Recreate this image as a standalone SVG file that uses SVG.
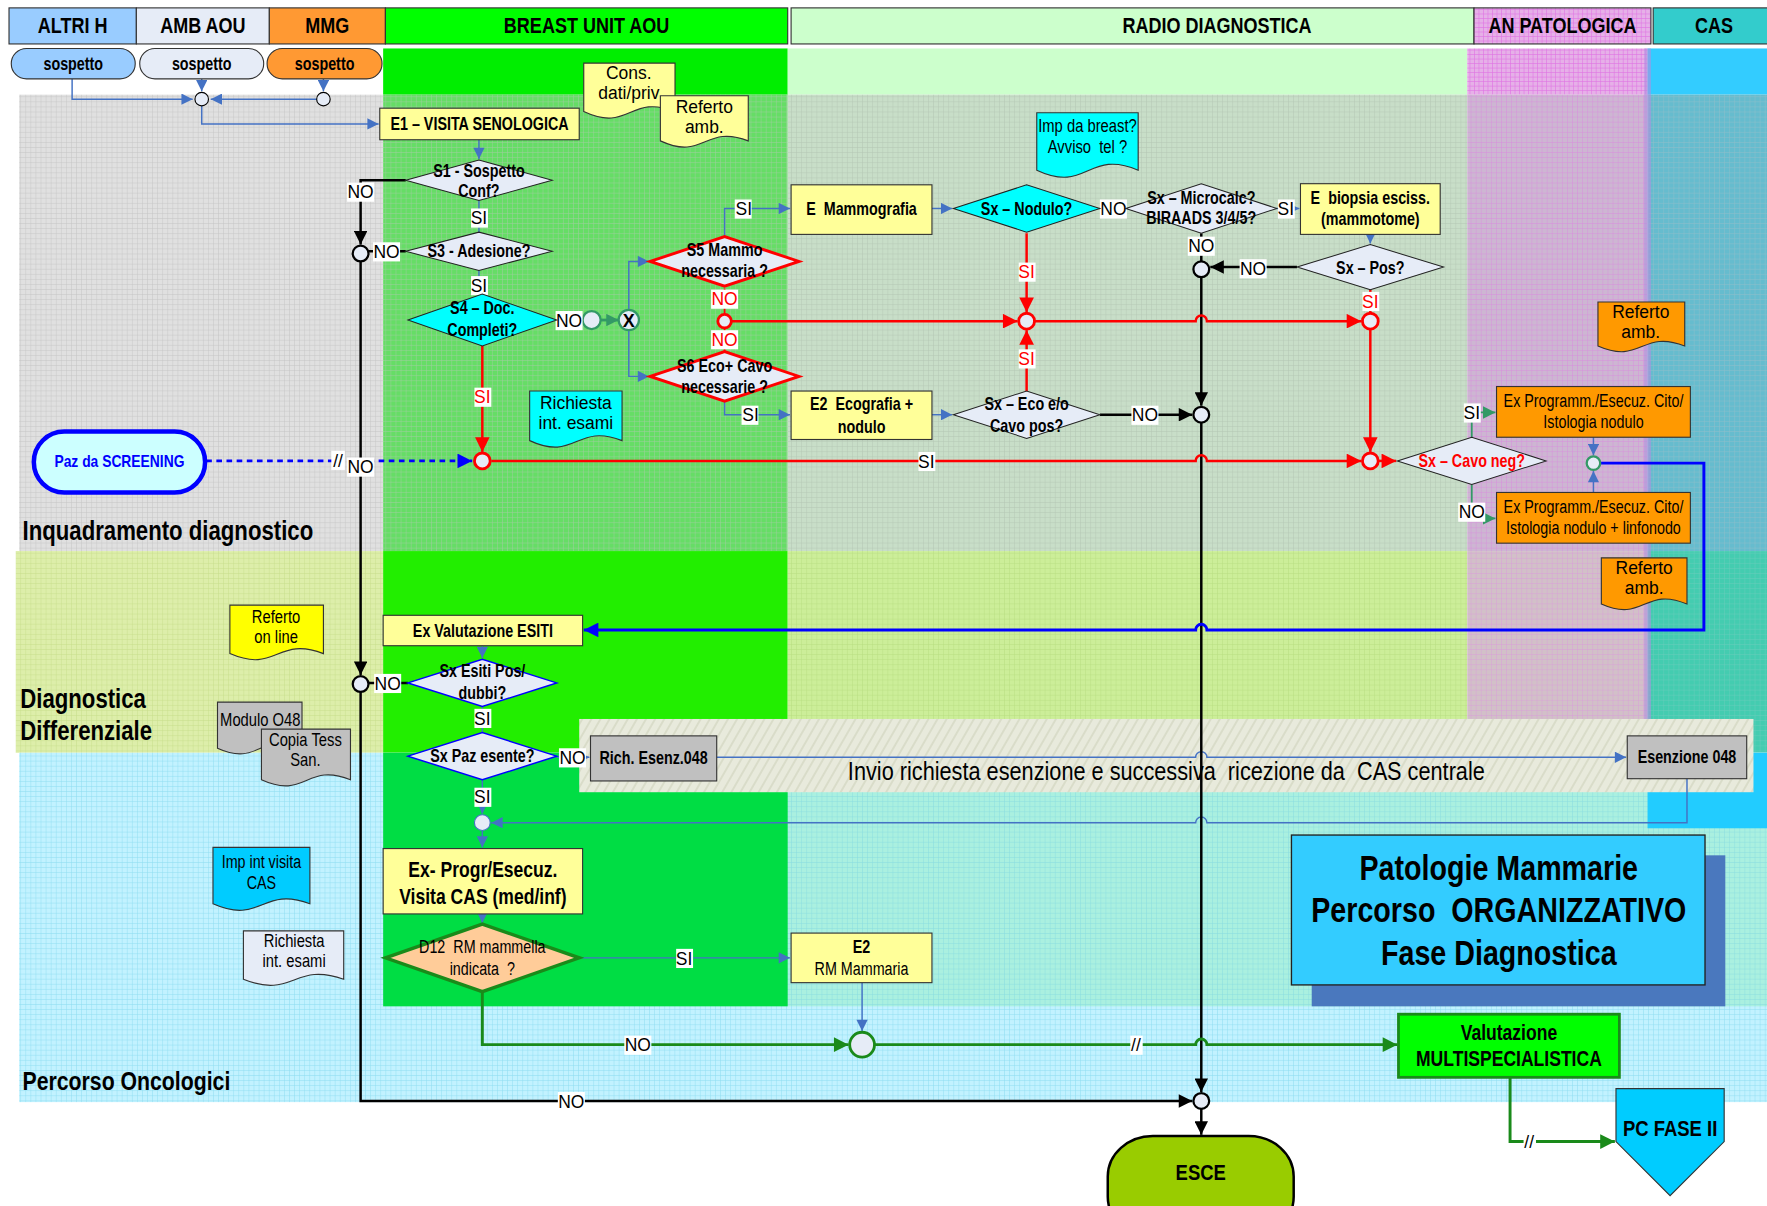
<svg xmlns="http://www.w3.org/2000/svg" width="1767" height="1206" viewBox="0 0 1767 1206">
<defs>
<style>
text{font-family:"Liberation Sans",Arial,sans-serif;text-anchor:middle;fill:#000;white-space:pre}
.hd,.b,.r,.band{transform:scale(.82,1);transform-box:fill-box;transform-origin:50% 50%}
.hd{font-size:19.5px;font-weight:bold}
.b{font-size:15.5px;font-weight:bold}
.r{font-size:15.5px}
.w{font-size:15.5px}
.lt{font-size:15.5px}
.band{font-size:24px;font-weight:bold;text-anchor:start;transform-origin:0 50%}
.box{stroke:#333;stroke-width:1}
.yel{fill:#FFFF99}
.dia{fill:#E6ECF7;stroke:#222;stroke-width:0.9}
.cb{stroke:#4472C4;stroke-width:1.3;fill:none}
.ck{stroke:#000;stroke-width:2.2;fill:none}
.cr{stroke:#FF0000;stroke-width:2.2;fill:none}
.cg{stroke:#339966;stroke-width:1.6;fill:none}
.cgd{stroke:#1A8A1A;stroke-width:2.6;fill:none}
.cbd{stroke:#0000FF;stroke-width:2.6;fill:none}
.lb rect{fill:#fff}
.jn{fill:#E6ECF7;stroke:#000;stroke-width:2}
</style>
<marker id="aB" viewBox="0 0 10 10" refX="10" refY="5" markerUnits="userSpaceOnUse" markerWidth="11" markerHeight="10" orient="auto"><path d="M0 0L10 5L0 10Z" fill="#4472C4"/></marker>
<marker id="aK" viewBox="0 0 10 10" refX="10" refY="5" markerUnits="userSpaceOnUse" markerWidth="13" markerHeight="12" orient="auto"><path d="M0 0L10 5L0 10Z" fill="#000"/></marker>
<marker id="aR" viewBox="0 0 10 10" refX="10" refY="5" markerUnits="userSpaceOnUse" markerWidth="14" markerHeight="13" orient="auto"><path d="M0 0L10 5L0 10Z" fill="#FF0000"/></marker>
<marker id="aG" viewBox="0 0 10 10" refX="10" refY="5" markerUnits="userSpaceOnUse" markerWidth="12" markerHeight="11" orient="auto"><path d="M0 0L10 5L0 10Z" fill="#339966"/></marker>
<marker id="aGD" viewBox="0 0 10 10" refX="10" refY="5" markerUnits="userSpaceOnUse" markerWidth="14" markerHeight="13" orient="auto"><path d="M0 0L10 5L0 10Z" fill="#1A8A1A"/></marker>
<marker id="aBD" viewBox="0 0 10 10" refX="10" refY="5" markerUnits="userSpaceOnUse" markerWidth="14" markerHeight="13" orient="auto"><path d="M0 0L10 5L0 10Z" fill="#0000FF"/></marker>
<pattern id="pGray" width="4.5" height="4.5" patternUnits="userSpaceOnUse"><rect width="4.5" height="4.5" fill="#E0E0E0"/><path d="M0 .25H4.5M.25 0V4.5" stroke="#C4C4C4" stroke-width=".5"/></pattern>
<pattern id="pGreen" width="4.5" height="4.5" patternUnits="userSpaceOnUse"><rect width="4.5" height="4.5" fill="#66DD66"/><path d="M0 .25H4.5M.25 0V4.5" stroke="#A0CCA0" stroke-width=".5"/></pattern>
<pattern id="pRadio" width="4.5" height="4.5" patternUnits="userSpaceOnUse"><rect width="4.5" height="4.5" fill="#C8DEC8"/><path d="M0 .25H4.5M.25 0V4.5" stroke="#B4C6B4" stroke-width=".5"/></pattern>
<pattern id="pPinkG" width="4.5" height="4.5" patternUnits="userSpaceOnUse"><rect width="4.5" height="4.5" fill="#CDB6D2"/><path d="M0 .25H4.5M.25 0V4.5" stroke="#D88EDC" stroke-width=".5"/></pattern>
<pattern id="pPink" width="4" height="4" patternUnits="userSpaceOnUse"><rect width="4" height="4" fill="#E6B0E8"/><path d="M0 .25H4M.25 0V4" stroke="#E070E4" stroke-width=".6"/></pattern>
<pattern id="pCasG" width="4.5" height="4.5" patternUnits="userSpaceOnUse"><rect width="4.5" height="4.5" fill="#66BCCE"/><path d="M0 .25H4.5M.25 0V4.5" stroke="#90BCC8" stroke-width=".5"/></pattern>
<pattern id="pYG" width="4.5" height="4.5" patternUnits="userSpaceOnUse"><rect width="4.5" height="4.5" fill="#DDEEAA"/><path d="M0 .25H4.5M.25 0V4.5" stroke="#C6DE8A" stroke-width=".5"/></pattern>
<pattern id="pRadioYG" width="4.5" height="4.5" patternUnits="userSpaceOnUse"><rect width="4.5" height="4.5" fill="#CCEE99"/><path d="M0 .25H4.5M.25 0V4.5" stroke="#B6DE80" stroke-width=".5"/></pattern>
<pattern id="pPinkYG" width="4.5" height="4.5" patternUnits="userSpaceOnUse"><rect width="4.5" height="4.5" fill="#D2C0C8"/><path d="M0 .25H4.5M.25 0V4.5" stroke="#D89ED8" stroke-width=".5"/></pattern>
<pattern id="pCasYG" width="4.5" height="4.5" patternUnits="userSpaceOnUse"><rect width="4.5" height="4.5" fill="#44CCB0"/><path d="M0 .25H4.5M.25 0V4.5" stroke="#66CCBB" stroke-width=".5"/></pattern>
<pattern id="pCyan" width="4.5" height="4.5" patternUnits="userSpaceOnUse"><rect width="4.5" height="4.5" fill="#C2F2FF"/><path d="M0 .25H4.5M.25 0V4.5" stroke="#8EDCF0" stroke-width=".5"/></pattern>
<pattern id="pCyanG" width="4.5" height="4.5" patternUnits="userSpaceOnUse"><rect width="4.5" height="4.5" fill="#AAF0E0"/><path d="M0 .25H4.5M.25 0V4.5" stroke="#88DDE0" stroke-width=".5"/></pattern>
<pattern id="pHatch" width="7" height="7" patternUnits="userSpaceOnUse" patternTransform="rotate(-60)"><rect width="7" height="7" fill="#E8EADC"/><path d="M0 3.5H7" stroke="#D6D9C4" stroke-width="1.4"/></pattern>
</defs>

<g transform="scale(1.12691)">
<!-- swimlane backgrounds -->
<g id="lanes">
<rect x="0" y="0" width="1568" height="1070" fill="#fff"/>
<!-- top strip -->
<rect x="340" y="43" width="359" height="41" fill="#00EE00"/>
<rect x="699" y="43" width="603" height="41" fill="#CCFFCC"/>
<rect x="1302" y="43" width="160" height="41" fill="url(#pPink)"/>
<rect x="1462" y="43" width="106" height="41" fill="#33CCFF"/>
<!-- inquadramento diagnostico -->
<rect x="17" y="84" width="323" height="405" fill="url(#pGray)"/>
<rect x="340" y="84" width="359" height="405" fill="url(#pGreen)"/>
<rect x="699" y="84" width="603" height="405" fill="url(#pRadio)"/>
<rect x="1302" y="84" width="160" height="405" fill="url(#pPinkG)"/>
<rect x="1462" y="84" width="106" height="405" fill="url(#pCasG)"/>
<!-- diagnostica differenziale -->
<rect x="14" y="489" width="326" height="179" fill="url(#pYG)"/>
<rect x="340" y="489" width="359" height="179" fill="#22EE00"/>
<rect x="699" y="489" width="603" height="179" fill="url(#pRadioYG)"/>
<rect x="1302" y="489" width="160" height="179" fill="url(#pPinkYG)"/>
<rect x="1462" y="489" width="106" height="179" fill="url(#pCasYG)"/>
<rect x="1459" y="43" width="6" height="625" fill="#B090E0" opacity=".6"/>
<!-- percorso oncologici -->
<rect x="17" y="668" width="1551" height="310" fill="url(#pCyan)"/>
<rect x="699" y="668" width="869" height="225" fill="url(#pCyanG)"/>
<rect x="340" y="668" width="359" height="225" fill="#00DD44"/>
<rect x="1462" y="668" width="106" height="67" fill="#22CCFF"/>
</g>

<!-- column headers -->
<g id="headers">
<g id="h-altri"><rect class="box" x="8" y="7" width="113" height="32" fill="#99CCFF"/><text class="hd" x="64.5" y="29.5">ALTRI H</text></g>
<g id="h-amb"><rect class="box" x="121" y="7" width="118" height="32" fill="#E6ECF7"/><text class="hd" x="180" y="29.5">AMB AOU</text></g>
<g id="h-mmg"><rect class="box" x="239" y="7" width="103" height="32" fill="#FF9933"/><text class="hd" x="290.5" y="29.5">MMG</text></g>
<g id="h-breast"><rect class="box" x="342" y="7" width="357" height="32" fill="#00FF00"/><text class="hd" x="520.5" y="29.5">BREAST UNIT AOU</text></g>
<g id="h-radio"><rect class="box" x="702" y="7" width="606" height="32" fill="#CCFFCC"/><text class="hd" x="1080" y="29.5">RADIO DIAGNOSTICA</text></g>
<g id="h-anpat"><rect class="box" x="1308" y="7" width="157" height="32" fill="url(#pPink)"/><text class="hd" x="1386.5" y="29.5">AN PATOLOGICA</text></g>
<g id="h-cas"><rect class="box" x="1467" y="7" width="105" height="32" fill="#33CCCC"/><text class="hd" x="1521" y="29.5">CAS</text></g>
</g>

<!-- band titles -->
<g id="band-titles">
<text class="band" x="20" y="479">Inquadramento diagnostico</text>
<text class="band" x="18" y="628">Diagnostica</text>
<text class="band" x="18" y="657">Differenziale</text>
<text class="band" x="20" y="967" style="font-size:23px">Percorso Oncologici</text>
</g>

<!-- exemption request strip -->
<g id="n-invio">
<rect x="514" y="638" width="1042" height="65" fill="url(#pHatch)"/>
<text class="r" x="1035" y="692" style="font-size:23.5px">Invio richiesta esenzione e successiva  ricezione da  CAS centrale</text>
</g>

<!-- connectors -->
<g id="connectors">
<!-- blue thin -->
<path class="cb" d="M64 70V88H171" marker-end="url(#aB)"/>
<path class="cb" d="M179 70V81" marker-end="url(#aB)"/>
<path class="cb" d="M287 70V81" marker-end="url(#aB)"/>
<path class="cb" d="M281 88H187" marker-end="url(#aB)"/>
<path class="cb" d="M179 94V110H336" marker-end="url(#aB)"/>
<path class="cb" d="M425 124V141" marker-end="url(#aB)"/>
<path class="cb" d="M425 178V206M425 240V261"/>
<path class="cb" d="M558 275V232H576" marker-end="url(#aB)"/>
<path class="cb" d="M558 293V334H576" marker-end="url(#aB)"/>
<path class="cb" d="M643 210V185H701" marker-end="url(#aB)"/>
<path class="cb" d="M643 356V368H701" marker-end="url(#aB)"/>
<path class="cb" d="M827 185H845" marker-end="url(#aB)"/>
<path class="cb" d="M827 368H845" marker-end="url(#aB)"/>
<path class="cb" d="M1132 185H1153" marker-end="url(#aB)"/>
<path class="cb" d="M1216 208V216" marker-end="url(#aB)"/>
<path class="cb" d="M1414 388V404" marker-end="url(#aB)"/>
<path class="cb" d="M1414 437V418" marker-end="url(#aB)"/>
<path class="cb" d="M428 573V584" marker-end="url(#aB)"/>
<path class="cb" d="M428 627V650"/>
<path class="cb" d="M494 672H523" marker-end="url(#aB)"/>
<path class="cb" d="M428 692V722" marker-end="url(#aB)"/>
<path class="cb" d="M428 737V752" marker-end="url(#aB)"/>
<path class="cb" d="M636 672H1061a5 5 0 0 1 10 0H1443" marker-end="url(#aB)"/>
<path class="cb" d="M1497 691V730H1071a5 5 0 0 0 -10 0H436" marker-end="url(#aB)"/>
<path class="cb" d="M428 811V819" marker-end="url(#aB)"/>
<path class="cb" d="M514 850H701" marker-end="url(#aB)"/>
<path class="cb" d="M765 872V915" marker-end="url(#aB)"/>
<!-- black -->
<path class="ck" d="M360 160H320V217" marker-end="url(#aK)"/>
<path class="ck" d="M360 223H327"/>
<path class="ck" d="M320 232V599" marker-end="url(#aK)"/>
<path class="ck" d="M362 606H327"/>
<path class="ck" d="M320 614V977H1058" marker-end="url(#aK)"/>
<path class="ck" d="M976 185H999"/>
<path class="ck" d="M1066 207V232"/>
<path class="ck" d="M1151 237H1074" marker-end="url(#aK)"/>
<path class="ck" d="M1066 246V360" marker-end="url(#aK)"/>
<path class="ck" d="M976 368H1058" marker-end="url(#aK)"/>
<path class="ck" d="M1066 375V969" marker-end="url(#aK)"/>
<path class="ck" d="M1066 984V1007" marker-end="url(#aK)"/>
<!-- red -->
<path class="cr" d="M428 307V401" marker-end="url(#aR)"/>
<path class="cr" d="M436 409H1061a5 5 0 0 1 10 0H1208" marker-end="url(#aR)"/>
<path class="cr" d="M1223 409H1239" marker-end="url(#aR)"/>
<path class="cr" d="M643 256V279M643 291V312" style="stroke-width:1.6"/>
<path class="cr" d="M649 285H903" marker-end="url(#aR)"/>
<path class="cr" d="M918 285H1061a5 5 0 0 1 10 0H1208" marker-end="url(#aR)"/>
<path class="cr" d="M911 207V277" marker-end="url(#aR)"/>
<path class="cr" d="M911 347V293" marker-end="url(#aR)"/>
<path class="cr" d="M1216 257V278"/>
<path class="cr" d="M1216 292V401" marker-end="url(#aR)"/>
<!-- green -->
<path class="cg" d="M493 284H517"/>
<path class="cg" d="M533 284H549" style="stroke-width:2.5" marker-end="url(#aG)"/>
<path class="cg" d="M1306 388V366H1327" marker-end="url(#aG)"/>
<path class="cg" d="M1306 430V460H1327" marker-end="url(#aG)"/>
<path class="cgd" d="M428 880V927H753" marker-end="url(#aGD)"/>
<path class="cgd" d="M776 927H1061a5 5 0 0 1 10 0H1240" marker-end="url(#aGD)"/>
<path class="cgd" d="M1340 956V1013H1433" marker-end="url(#aGD)"/>
<!-- blue strong -->
<path class="cbd" d="M1420 411H1512V559H1071a5 5 0 0 0 -10 0H518" marker-end="url(#aBD)"/>
<path class="cbd" d="M183 409H419" stroke-dasharray="5 4" marker-end="url(#aBD)"/>

<!-- junction circles -->
<circle class="jn" cx="179" cy="88" r="6" style="stroke-width:1"/>
<circle class="jn" cx="287" cy="88" r="6" style="stroke-width:1"/>
<circle class="jn" cx="320" cy="225" r="7"/>
<circle class="jn" cx="320" cy="607" r="7"/>
<circle class="jn" cx="525" cy="284" r="8" style="stroke:#339966"/>
<circle class="jn" cx="558" cy="284" r="9" style="stroke:#339966"/>
<text x="558" y="290" style="font-size:16px;font-weight:bold">X</text>
<circle class="jn" cx="428" cy="409" r="7" style="stroke:#FF0000;stroke-width:2.5"/>
<circle class="jn" cx="643" cy="285" r="6" style="stroke:#FF0000;stroke-width:2.5"/>
<circle class="jn" cx="911" cy="285" r="7" style="stroke:#FF0000;stroke-width:2.5"/>
<circle class="jn" cx="1216" cy="285" r="7" style="stroke:#FF0000;stroke-width:2.5"/>
<circle class="jn" cx="1216" cy="409" r="7" style="stroke:#FF0000;stroke-width:2.5"/>
<circle class="jn" cx="1066" cy="239" r="7"/>
<circle class="jn" cx="1066" cy="368" r="7"/>
<circle class="jn" cx="1066" cy="977" r="7"/>
<circle class="jn" cx="1414" cy="411" r="6" style="stroke:#339966"/>
<circle class="jn" cx="428" cy="730" r="7" style="stroke:#4472C4;stroke-width:1"/>
<circle class="jn" cx="765" cy="927" r="11" style="stroke:#1A8A1A;stroke-width:2.5"/>

<!-- connector labels -->
<g class="lb">
<rect x="308" y="162" width="24" height="17"/><text class="lt" x="320" y="176">NO</text>
<rect x="331" y="215" width="24" height="17"/><text class="lt" x="343" y="229">NO</text>
<rect x="418" y="185" width="15" height="17"/><text class="lt" x="425" y="199">SI</text>
<rect x="418" y="245" width="15" height="17"/><text class="lt" x="425" y="259">SI</text>
<rect x="493" y="276" width="24" height="17"/><text class="lt" x="505" y="290">NO</text>
<rect x="652" y="177" width="15" height="17"/><text class="lt" x="660" y="191">SI</text>
<rect x="631" y="257" width="24" height="17"/><text class="lt" x="643" y="271" style="fill:#FF0000">NO</text>
<rect x="631" y="293" width="24" height="17"/><text class="lt" x="643" y="307" style="fill:#FF0000">NO</text>
<rect x="658" y="360" width="15" height="17"/><text class="lt" x="666" y="374">SI</text>
<rect x="421" y="344" width="15" height="17"/><text class="lt" x="428" y="358" style="fill:#FF0000">SI</text>
<rect x="976" y="177" width="24" height="17"/><text class="lt" x="988" y="191">NO</text>
<rect x="1134" y="177" width="15" height="17"/><text class="lt" x="1141" y="191">SI</text>
<rect x="1054" y="210" width="24" height="17"/><text class="lt" x="1066" y="224">NO</text>
<rect x="1100" y="230" width="24" height="17"/><text class="lt" x="1112" y="244">NO</text>
<rect x="1209" y="259" width="15" height="17"/><text class="lt" x="1216" y="273" style="fill:#FF0000">SI</text>
<rect x="904" y="233" width="15" height="17"/><text class="lt" x="911" y="247" style="fill:#FF0000">SI</text>
<rect x="904" y="310" width="15" height="17"/><text class="lt" x="911" y="324" style="fill:#FF0000">SI</text>
<rect x="1004" y="360" width="24" height="17"/><text class="lt" x="1016" y="374">NO</text>
<rect x="815" y="401" width="15" height="17"/><text class="lt" x="822" y="415">SI</text>
<rect x="294" y="400" width="12" height="17"/><text class="lt" x="300" y="414">//</text>
<rect x="308" y="406" width="24" height="17"/><text class="lt" x="320" y="420">NO</text>
<rect x="1299" y="358" width="15" height="17"/><text class="lt" x="1306" y="372">SI</text>
<rect x="1294" y="446" width="24" height="17"/><text class="lt" x="1306" y="460">NO</text>
<rect x="332" y="598" width="24" height="17"/><text class="lt" x="344" y="612">NO</text>
<rect x="421" y="629" width="15" height="17"/><text class="lt" x="428" y="643">SI</text>
<rect x="496" y="664" width="24" height="17"/><text class="lt" x="508" y="678">NO</text>
<rect x="421" y="699" width="15" height="17"/><text class="lt" x="428" y="713">SI</text>
<rect x="600" y="842" width="15" height="17"/><text class="lt" x="607" y="856">SI</text>
<rect x="554" y="919" width="24" height="17"/><text class="lt" x="566" y="933">NO</text>
<rect x="1003" y="919" width="11" height="17"/><text class="lt" x="1008" y="933">//</text>
<rect x="495" y="969" width="24" height="17"/><text class="lt" x="507" y="983">NO</text>
<rect x="1352" y="1005" width="11" height="17"/><text class="lt" x="1357" y="1019">//</text>
</g>
</g>

<!-- entry pills -->
<g id="n-sosp1"><rect x="10" y="43" width="110" height="27" rx="13.5" fill="#99CCFF" stroke="#333"/><text class="b" x="65" y="62">sospetto</text></g>
<g id="n-sosp2"><rect x="124" y="43" width="110" height="27" rx="13.5" fill="#E6ECF7" stroke="#333"/><text class="b" x="179" y="62">sospetto</text></g>
<g id="n-sosp3"><rect x="237" y="43" width="102" height="27" rx="13.5" fill="#FF9933" stroke="#333"/><text class="b" x="288" y="62">sospetto</text></g>

<g id="n-screening"><rect x="30" y="383" width="152" height="54" rx="27" fill="#CCFFFF" stroke="#0000FF" stroke-width="4"/><text class="b" x="106" y="414" style="fill:#0000FF;font-size:15px">Paz da SCREENING</text></g>

<!-- process boxes -->
<g id="n-e1"><rect class="box yel" x="337" y="96" width="177" height="28"/><text class="b" x="425.5" y="115.5">E1 – VISITA SENOLOGICA</text></g>
<g id="n-mammo"><rect class="box yel" x="702" y="164" width="125" height="44"/><text class="b" x="764.5" y="191">E  Mammografia</text></g>
<g id="n-biopsia"><rect class="box yel" x="1154" y="163" width="124" height="45"/><text class="b" x="1216" y="181">E  biopsia esciss.</text><text class="b" x="1216" y="200">(mammotome)</text></g>
<g id="n-eco"><rect class="box yel" x="702" y="347" width="125" height="43"/><text class="b" x="764.5" y="364">E2  Ecografia +</text><text class="b" x="764.5" y="384">nodulo</text></g>
<g id="n-isto1"><rect class="box" x="1328" y="343" width="172" height="45" fill="#FF9900"/><text class="r" x="1414" y="361">Ex Programm./Esecuz. Cito/</text><text class="r" x="1414" y="380">Istologia nodulo</text></g>
<g id="n-isto2"><rect class="box" x="1328" y="437" width="172" height="45" fill="#FF9900"/><text class="r" x="1414" y="455">Ex Programm./Esecuz. Cito/</text><text class="r" x="1414" y="474">Istologia nodulo + linfonodo</text></g>
<g id="n-esiti"><rect class="box yel" x="340" y="546" width="177" height="27"/><text class="b" x="428.5" y="565">Ex Valutazione ESITI</text></g>
<g id="n-richesenz"><rect class="box" x="524" y="653" width="112" height="40" fill="#C0C0C0"/><text class="b" x="580" y="678">Rich. Esenz.048</text></g>
<g id="n-esenzione"><rect class="box" x="1444" y="653" width="106" height="38" fill="#C0C0C0"/><text class="b" x="1497" y="677">Esenzione 048</text></g>
<g id="n-visitacas"><rect class="box yel" x="340" y="753" width="177" height="58"/><text class="b" x="428.5" y="778" style="font-size:19px">Ex- Progr/Esecuz.</text><text class="b" x="428.5" y="802" style="font-size:19px">Visita CAS (med/inf)</text></g>
<g id="n-rm"><rect class="box yel" x="702" y="828" width="125" height="44"/><text class="b" x="764.5" y="846">E2</text><text class="r" x="764.5" y="865">RM Mammaria</text></g>
<g id="n-multi"><rect x="1241" y="900" width="196" height="56" fill="#00FF00" stroke="#1A8A1A" stroke-width="2.5"/><text class="b" x="1339" y="923" style="font-size:19px">Valutazione</text><text class="b" x="1339" y="946" style="font-size:19px">MULTISPECIALISTICA</text></g>
<g id="n-pcfase"><polygon points="1434,966 1530,966 1530,1013 1482,1061 1434,1013" fill="#00CCFF" stroke="#333"/><text class="b" x="1482" y="1008" style="font-size:20px">PC FASE II</text></g>
<g id="n-esce"><rect x="983" y="1008" width="165" height="90" rx="40" ry="36" fill="#99CC00" stroke="#000" stroke-width="2.2"/><text class="b" x="1065.5" y="1047" style="font-size:20px">ESCE</text></g>

<!-- decisions -->
<g id="n-s1"><polygon class="dia" points="360,160 425,142 490,160 425,178"/><text class="b" x="425" y="157">S1 - Sospetto</text><text class="b" x="425" y="175">Conf?</text></g>
<g id="n-s3"><polygon class="dia" points="360,223 425,206 490,223 425,240"/><text class="b" x="425" y="228">S3 - Adesione?</text></g>
<g id="n-s4"><polygon class="dia" points="362,284 428,261 494,284 428,307" style="fill:#00FFFF"/><text class="b" x="428" y="279">S4 – Doc.</text><text class="b" x="428" y="298">Completi?</text></g>
<g id="n-s5"><polygon class="dia" points="577,232 643,210 709,232 643,254" style="stroke:#FF0000;stroke-width:2.6"/><text class="b" x="643" y="227">S5 Mammo</text><text class="b" x="643" y="246">necessaria ?</text></g>
<g id="n-s6"><polygon class="dia" points="577,334 643,312 709,334 643,356" style="stroke:#FF0000;stroke-width:2.6"/><text class="b" x="643" y="330">S6 Eco+ Cavo</text><text class="b" x="643" y="349">necessarie ?</text></g>
<g id="n-nodulo"><polygon class="dia" points="846,185 911,164 976,185 911,206" style="fill:#00FFFF"/><text class="b" x="911" y="191">Sx – Nodulo?</text></g>
<g id="n-microcalc"><polygon class="dia" points="999,185 1066,163 1133,185 1066,207"/><text class="b" x="1066" y="181">Sx – Microcalc?</text><text class="b" x="1066" y="199">BIRAADS 3/4/5?</text></g>
<g id="n-sxpos"><polygon class="dia" points="1151,237 1216,217 1281,237 1216,257"/><text class="b" x="1216" y="243">Sx – Pos?</text></g>
<g id="n-sxeco"><polygon class="dia" points="846,368 911,347 976,368 911,389"/><text class="b" x="911" y="364">Sx – Eco e/o</text><text class="b" x="911" y="383">Cavo pos?</text></g>
<g id="n-cavoneg"><polygon class="dia" points="1240,409 1306,388 1372,409 1306,430"/><text class="b" x="1306" y="414" style="fill:#FF0000">Sx – Cavo neg?</text></g>
<g id="n-esitipos"><polygon class="dia" points="362,606 428,585 494,606 428,627" style="stroke:#0000FF;stroke-width:1.3"/><text class="b" x="428" y="601">Sx Esiti Pos/</text><text class="b" x="428" y="620">dubbi?</text></g>
<g id="n-esente"><polygon class="dia" points="362,671 428,650 494,671 428,692" style="stroke:#0000FF;stroke-width:1.3"/><text class="b" x="428" y="676">Sx Paz esente?</text></g>
<g id="n-d12"><polygon points="342,850 428,820 514,850 428,880" fill="#FFCC99" stroke="#1A8A1A" stroke-width="3"/><text class="r" x="428" y="846">D12  RM mammella</text><text class="r" x="428" y="865">indicata  ?</text></g>

<!-- documents -->
<g id="n-cons"><path class="box" d="M518 56H599V99C558.5 83 558.5 118 518 99Z" fill="#FFFF99"/><text class="w" x="558" y="70">Cons.</text><text class="w" x="558" y="88">dati/priv</text></g>
<g id="n-ref1"><path class="box" d="M586 85H664V125C625 110 625 143 586 125Z" fill="#FFFF99"/><text class="w" x="625" y="100">Referto</text><text class="w" x="625" y="118">amb.</text></g>
<g id="n-impbreast"><path class="box" d="M920 100H1010V151C965 132 965 172 920 151Z" fill="#00FFFF"/><text class="r" x="965" y="117" style="font-size:16px">Imp da breast?</text><text class="r" x="965" y="136" style="font-size:16px">Avviso  tel ?</text></g>
<g id="n-richesami1"><path class="box" d="M470 347H552V391C511 375 511 410 470 391Z" fill="#00FFFF"/><text class="w" x="511" y="363">Richiesta</text><text class="w" x="511" y="381">int. esami</text></g>
<g id="n-ref2"><path class="box" d="M1418 268H1495V307C1456.5 292 1456.5 324 1418 307Z" fill="#FF9900"/><text class="w" x="1456" y="282">Referto</text><text class="w" x="1456" y="300">amb.</text></g>
<g id="n-ref3"><path class="box" d="M1421 495H1497V536C1459 520 1459 553 1421 536Z" fill="#FF9900"/><text class="w" x="1459" y="509">Referto</text><text class="w" x="1459" y="527">amb.</text></g>
<g id="n-refonline"><path class="box" d="M204 537H287V580C245.5 564 245.5 598 204 580Z" fill="#FFFF00"/><text class="r" x="245" y="553" style="font-size:16px">Referto</text><text class="r" x="245" y="571" style="font-size:16px">on line</text></g>
<g id="n-modulo"><path class="box" d="M193 623H268V664C230.5 648 230.5 681 193 664Z" fill="#C0C0C0"/><text class="r" x="231" y="644" style="font-size:16px">Modulo O48</text></g>
<g id="n-copia"><path class="box" d="M232 647H311V692C271.5 676 271.5 710 232 692Z" fill="#C0C0C0"/><text class="r" x="271" y="662" style="font-size:16px">Copia Tess</text><text class="r" x="271" y="680" style="font-size:16px">San.</text></g>
<g id="n-impcas"><path class="box" d="M189 752H275V802C232 786 232 821 189 802Z" fill="#00CCFF"/><text class="r" x="232" y="770">Imp int visita</text><text class="r" x="232" y="789">CAS</text></g>
<g id="n-richesami2"><path class="box" d="M216 826H305V869C260.5 853 260.5 887 216 869Z" fill="#E6ECF7"/><text class="r" x="261" y="840" style="font-size:16px">Richiesta</text><text class="r" x="261" y="858" style="font-size:16px">int. esami</text></g>

<!-- title card -->
<g id="n-title">
<rect x="1164" y="759" width="367" height="134" fill="#4A78BE"/>
<rect x="1146" y="741" width="367" height="133" fill="#33CCFF" stroke="#222" stroke-width="1.2"/>
<text class="b" x="1330" y="781" style="font-size:31px">Patologie Mammarie</text>
<text class="b" x="1330" y="818" style="font-size:31px">Percorso  ORGANIZZATIVO</text>
<text class="b" x="1330" y="856" style="font-size:31px">Fase Diagnostica</text>
</g>
</g>
</svg>
